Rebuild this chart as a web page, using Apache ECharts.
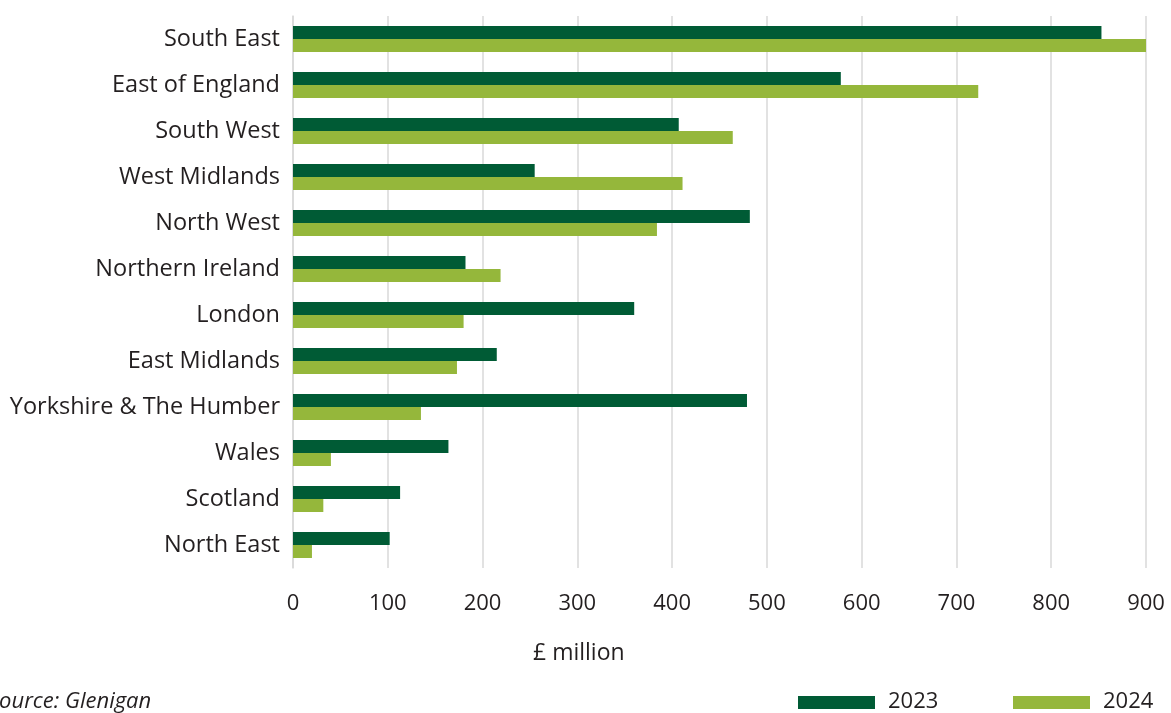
<!DOCTYPE html>
<html>
<head>
<meta charset="utf-8">
<script src="https://cdn.jsdelivr.net/npm/echarts@6/dist/echarts.min.js"></script>
<style>
  html, body { margin: 0; padding: 0; background: #fff; }
  #chart { width: 1171px; height: 713px; }
</style>
</head>
<body>
<div id="chart"></div>
<script>
// Regional values, £ million
const regions = [
  'South East', 'East of England', 'South West', 'West Midlands', 'North West',
  'Northern Ireland', 'London', 'East Midlands', 'Yorkshire & The Humber',
  'Wales', 'Scotland', 'North East'
];
const values2023 = [853, 578, 407, 255, 482, 182, 360, 215, 479, 164, 113, 102];
const values2024 = [900, 723, 464, 411, 384, 219, 180, 173, 135, 40, 32, 20];
const xTicks = [0, 100, 200, 300, 400, 500, 600, 700, 800, 900];

const FONT = '"Open Sans", "Noto Sans", sans-serif';
const TEXT = '#231f20';
const DARK = '#005b35';
const LIGHT = '#95b73b';

const chart = echarts.init(document.getElementById('chart'));
chart.setOption({
  animation: false,
  backgroundColor: '#fff',
  grid: { left: 293, right: 25, top: 16, bottom: 145, containLabel: false },
  xAxis: {
    type: 'value',
    min: xTicks[0],
    max: xTicks[xTicks.length - 1],
    interval: 100,
    axisLine: { show: false },
    axisTick: { show: false },
    splitLine: { show: true, lineStyle: { color: '#d9d9d9', width: 1.5 } },
    axisLabel: { margin: 25, fontFamily: FONT, fontSize: 22, color: TEXT }
  },
  yAxis: {
    type: 'category',
    data: regions,
    inverse: true,
    axisLine: { show: true, lineStyle: { color: '#d9d9d9', width: 1.5 } },
    axisTick: { show: false },
    axisLabel: { margin: 13, fontFamily: FONT, fontSize: 23.5, color: TEXT,
                 padding: [6, 0, 0, 0] }
  },
  series: [
    { name: '2023', type: 'bar', data: values2023, barWidth: 13, barGap: '0%',
      itemStyle: { color: DARK } },
    { name: '2024', type: 'bar', data: values2024, barWidth: 13, barGap: '0%',
      itemStyle: { color: LIGHT } }
  ],
  graphic: [
    { type: 'text', left: 533, top: 642,
      style: { text: '£ million', font: '23px ' + FONT, fill: TEXT } },
    { type: 'text', left: -12, top: 691,
      style: { text: 'Source: Glenigan', font: 'italic 22px ' + FONT, fill: TEXT } },
    { type: 'rect', shape: { x: 798, y: 696, width: 77, height: 13 }, style: { fill: DARK } },
    { type: 'text', left: 888, top: 691,
      style: { text: '2023', font: '22px ' + FONT, fill: TEXT } },
    { type: 'rect', shape: { x: 1013, y: 696, width: 77, height: 13 }, style: { fill: LIGHT } },
    { type: 'text', left: 1103, top: 691,
      style: { text: '2024', font: '22px ' + FONT, fill: TEXT } }
  ]
});
</script>
</body>
</html>
